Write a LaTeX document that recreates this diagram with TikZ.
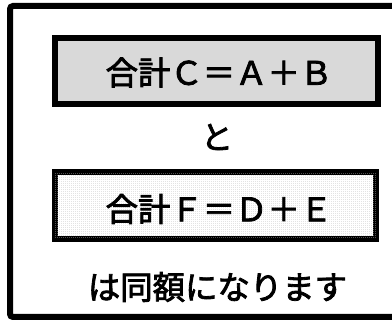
\documentclass[tikz,border=0pt]{standalone}
\usepackage{fontspec}
\newfontfamily\jp{Noto Sans CJK JP}[FakeBold=2.5]
\usetikzlibrary{patterns.meta}
\tikzdeclarepattern{name=finedots,type=uncolored,bounding box={(0,0) and (2pt,2pt)},tile size={(2pt,2pt)},code={\fill (0,0) rectangle (0.7pt,0.7pt);}}
\definecolor{boxgray}{HTML}{D9D9D9}
\definecolor{dotgray}{HTML}{BDBDBD}
\tikzset{
  sumbox/.style={draw=black, line width=5.5pt, inner sep=0pt},
  plain/.style={inner sep=0pt, font=\jp\fontsize{32.4}{38}\selectfont}
}
\begin{document}
\begin{tikzpicture}[x=1pt,y=-1pt]
\useasboundingbox (0,0) rectangle (392,320);
\begin{scope}
\clip (0,0) rectangle (392,320);
\draw[line width=6pt, rounded corners=3pt] (10,6) rectangle (400,317);
\end{scope}
\node[sumbox, fill=boxgray, minimum width=323pt, minimum height=66pt] (c1) at (216.5,71) {};
\node[plain] (t1) at (219,72.5) {合計Ｃ＝Ａ＋Ｂ};
\node[plain] (to) at (217,137) {と};
\node[sumbox, fill=white, postaction={pattern={finedots}, pattern color=dotgray}, minimum width=321pt, minimum height=67pt] (c2) at (215.5,205.5) {};
\node[plain] (t2) at (219,209) {合計Ｆ＝Ｄ＋Ｅ};
\node[plain] (eq) at (217.5,287) {は同額になります};
\end{tikzpicture}
\end{document}
